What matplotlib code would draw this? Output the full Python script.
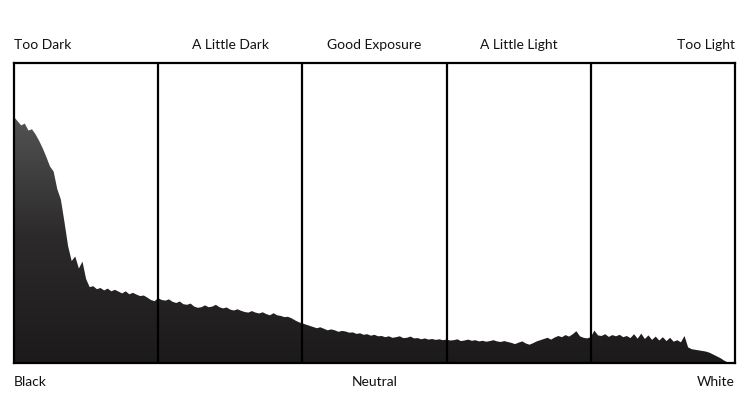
import numpy as np
import matplotlib.pyplot as plt
from matplotlib.colors import LinearSegmentedColormap

# histogram level, one value every 0.5 on a 0-100 tonal scale
levels = [
    82.0, 80.6, 79.2, 79.8, 77.5, 77.9, 76.2, 74.0, 71.5, 68.6,
    65.5, 63.8, 58.0, 54.5, 47.0, 39.0, 34.0, 35.5, 31.5, 33.8,
    28.0, 25.3, 25.6, 24.6, 25.0, 24.2, 24.8, 23.9, 24.4, 23.8,
    23.2, 23.9, 22.9, 23.4, 22.8, 22.3, 22.5, 21.8, 21.0, 20.6,
    21.6, 21.0, 20.8, 21.2, 20.4, 20.0, 20.5, 19.6, 19.4, 19.8,
    18.8, 18.4, 18.6, 19.2, 18.6, 18.8, 19.4, 18.6, 18.2, 18.5,
    17.8, 17.5, 17.9, 17.4, 17.0, 16.8, 17.3, 16.8, 16.5, 16.9,
    16.3, 15.9, 16.6, 15.9, 15.7, 15.3, 15.4, 14.9, 14.2, 13.6,
    13.2, 12.8, 12.4, 12.0, 11.6, 11.9, 11.4, 10.9, 11.2, 10.9,
    10.4, 10.7, 10.5, 10.1, 10.2, 9.7, 9.9, 9.4, 9.6, 9.1,
    9.4, 8.9, 9.0, 8.6, 8.9, 8.4, 8.6, 8.9, 8.3, 8.4,
    8.8, 8.2, 8.3, 7.9, 8.2, 7.8, 8.0, 7.7, 7.9, 7.6,
    7.8, 7.5, 7.6, 7.9, 7.3, 7.5, 7.8, 7.4, 7.6, 7.2,
    7.4, 7.1, 7.3, 7.6, 7.2, 7.0, 7.3, 7.0, 6.7, 6.3,
    6.8, 7.2, 6.5, 6.1, 6.6, 7.2, 7.6, 8.0, 8.4, 7.8,
    8.5, 9.0, 8.6, 9.3, 8.8, 9.6, 10.6, 8.9, 8.4, 8.2,
    8.6, 10.8, 9.2, 9.0, 9.6, 8.7, 9.3, 8.9, 9.4, 8.6,
    9.0, 8.3, 9.6, 8.1, 9.8, 8.0, 9.2, 7.7, 8.8, 7.5,
    8.6, 7.3, 8.4, 7.1, 7.6, 6.9, 9.0, 5.2, 4.6, 4.4,
    4.2, 4.0, 3.8, 3.4, 2.8, 2.2, 1.6, 0.8, 0.2, 0.0,
    0.0,
]
zone_labels = ["Too Dark", "A Little Dark", "Good Exposure", "A Little Light", "Too Light"]
bottom_labels = ["Black", "Neutral", "White"]

x = np.linspace(0, 100, len(levels))

fig = plt.figure(figsize=(7.5, 4.2), dpi=100)
ax = fig.add_axes([14 / 750, 57 / 420, 721 / 750, 300 / 420])
ax.set_xlim(0, 100)
ax.set_ylim(0, 100)

# filled histogram with a vertical grey gradient
fill = ax.fill_between(x, 0, levels, color="none", lw=0)
cmap = LinearSegmentedColormap.from_list("g", ["#1c1a1b", "#2c2a2b", "#565656"])
grad = np.linspace(0, 1, 256).reshape(-1, 1)
img = ax.imshow(grad, cmap=cmap, extent=[0, 100, 0, 85], origin="lower",
                aspect="auto", zorder=1)
path = fill.get_paths()[0]
img.set_clip_path(path, transform=ax.transData)

# zone dividers
for xd in [20, 40, 60, 80]:
    ax.axvline(xd, color="black", lw=1.6, zorder=3)

for s in ax.spines.values():
    s.set_linewidth(1.6)
    s.set_zorder(4)
ax.set_xticks([])
ax.set_yticks([])

font = dict(family=["Lato", "DejaVu Sans"], fontsize=10, color="#111111")
ty = 1.04
ax.text(0, ty, zone_labels[0], transform=ax.transAxes, ha="left", va="bottom", **font)
for i, lab in enumerate(zone_labels[1:4], start=1):
    ax.text(i * 20 + 10, ty, lab, transform=ax.get_xaxis_transform(),
            ha="center", va="bottom", **font)
ax.text(1, ty, zone_labels[4], transform=ax.transAxes, ha="right", va="bottom", **font)

by = -0.045
ax.text(0, by, bottom_labels[0], transform=ax.transAxes, ha="left", va="top", **font)
ax.text(50, by, bottom_labels[1], transform=ax.get_xaxis_transform(),
        ha="center", va="top", **font)
ax.text(1, by, bottom_labels[2], transform=ax.transAxes, ha="right", va="top", **font)

fig.savefig("out.png", dpi=100)
